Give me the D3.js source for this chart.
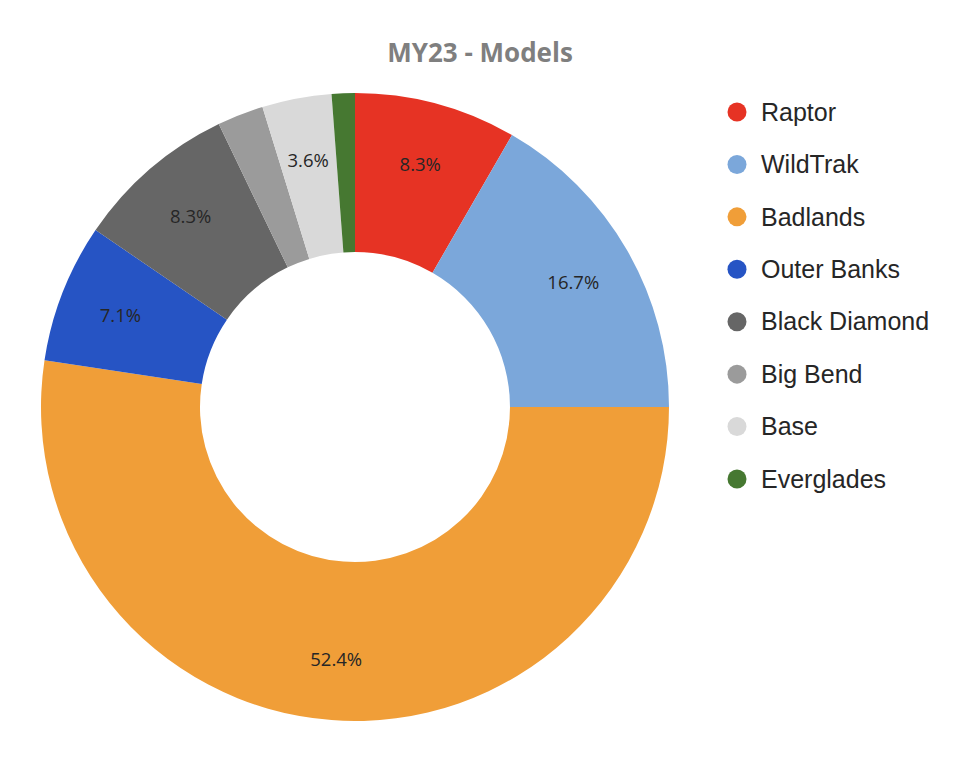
<!DOCTYPE html>
<html>
<head>
<meta charset="utf-8">
<script src="https://cdn.jsdelivr.net/npm/d3@7"></script>
<style>
  html, body { margin: 0; padding: 0; background: #fff; }
  svg { display: block; }
</style>
</head>
<body>
<svg id="chart" width="960" height="758"></svg>
<script>
// model counts (84 trucks total) ->
const models = ['Raptor', 'WildTrak', 'Badlands', 'Outer Banks', 'Black Diamond', 'Big Bend', 'Base', 'Everglades'];
const counts = [7, 14, 44, 6, 7, 2, 3, 1];
const colors = ['#E63324', '#7BA7DA', '#F09E38', '#2654C4', '#666666', '#9B9B9B', '#D9D9D9', '#467831'];
// Big Bend + Everglades have no label in the original
const showLabel = [true, true, true, true, true, false, true, false];

const svg = d3.select('#chart');
const width = 960, height = 758;

const cx = 355, cy = 407;
const outerR = 314, innerR = 155, labelR = 252;

const total = d3.sum(counts);
const data = models.map((m, i) => ({ model: m, count: counts[i], color: colors[i], label: showLabel[i] }));

// title
svg.append('text')
  .attr('x', 480)
  .attr('y', 62)
  .attr('text-anchor', 'middle')
  .attr('font-family', '"Open Sans", sans-serif')
  .attr('font-weight', 'bold')
  .attr('font-size', '26px')
  .attr('fill', '#7F7F7F')
  .text('MY23 - Models');

const pie = d3.pie()
  .value(d => d.count)
  .sort(null);

const arc = d3.arc().innerRadius(innerR).outerRadius(outerR);
const labelArc = d3.arc().innerRadius(labelR).outerRadius(labelR);

const g = svg.append('g')
  .attr('transform', `translate(${cx},${cy})`);

const arcs = pie(data);

g.selectAll('path.slice')
  .data(arcs)
  .enter().append('path')
    .attr('class', 'slice')
    .attr('d', arc)
    .attr('fill', d => d.data.color);

// pct labels
g.selectAll('text.pct')
  .data(arcs.filter(d => d.data.label))
  .enter().append('text')
    .attr('class', 'pct')
    .attr('transform', d => `translate(${labelArc.centroid(d)})`)
    .attr('text-anchor', 'middle')
    .attr('dominant-baseline', 'central')
    .attr('font-family', '"Open Sans", sans-serif')
    .attr('font-size', '18.5px')
    .attr('fill', '#262626')
    .text(d => d3.format('.1f')(d.data.count / total * 100) + '%');

// legend
const legendY = d3.scalePoint()
  .domain(models)
  .range([112, 479]);

const legend = svg.append('g');

const row = legend.selectAll('g.row')
  .data(data)
  .enter().append('g')
    .attr('class', 'row')
    .attr('transform', d => `translate(737,${legendY(d.model)})`);

row.append('circle')
  .attr('r', 9.5)
  .attr('fill', d => d.color);

row.append('text')
  .attr('x', 24)
  .attr('dy', '0.35em')
  .attr('font-family', '"Liberation Sans", Arial, sans-serif')
  .attr('font-size', '25px')
  .attr('fill', '#262626')
  .text(d => d.model);
</script>
</body>
</html>
